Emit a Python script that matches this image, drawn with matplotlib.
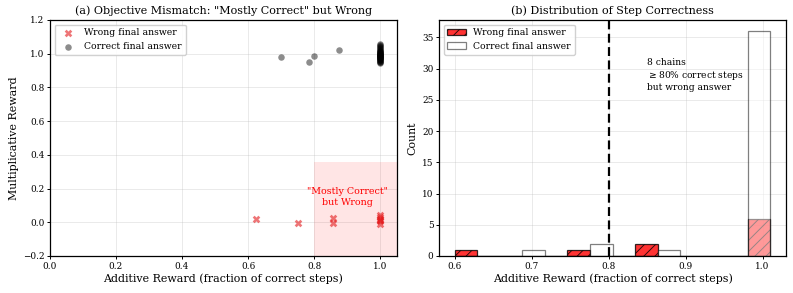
import numpy as np
import matplotlib
matplotlib.use("Agg")
from matplotlib import pyplot as plt

plt.rcParams['font.family'] = ['DejaVu Serif']
plt.rcParams['hatch.linewidth'] = 0.7

# additive reward (fraction of correct steps) and multiplicative reward per chain
wrong_add = [0.625, 0.75, 0.857, 0.857, 1.0, 1.0, 1.0, 1.0, 1.0, 1.0]
wrong_mult = [0.02, -0.005, 0.025, -0.003, 0.045, 0.03, 0.015, 0.005, -0.01, 0.022]

correct_add = [0.7, 0.786, 0.8, 0.875] + [1.0] * 36
correct_mult = [0.98, 0.948, 0.985, 1.023,
                0.942, 0.948, 0.953, 0.957, 0.961, 0.964, 0.967, 0.970, 0.972,
                0.975, 0.977, 0.979, 0.981, 0.983, 0.985, 0.987, 0.989, 0.991,
                0.993, 0.995, 0.997, 0.999, 1.001, 1.003, 1.005, 1.008, 1.011,
                1.014, 1.018, 1.022, 1.027, 1.032, 1.038, 1.044, 1.050, 1.055]

bins = np.linspace(0.6, 1.01, 15)
threshold = 0.8

fig = plt.figure(figsize=(7.93, 2.93), dpi=100)
ax1 = fig.add_axes([0.063, 0.1263, 0.4372, 0.8055])
ax2 = fig.add_axes([0.5536, 0.1263, 0.4376, 0.8055])

# (a) scatter
ax1.axvspan(threshold, 1.05, ymin=0, ymax=0.4, color='red', alpha=0.1, lw=0)
ax1.scatter(wrong_add, wrong_mult, marker='X', s=30, color='#e41a1c', alpha=0.6,
            linewidths=0, label='Wrong final answer', zorder=3)
ax1.scatter(correct_add, correct_mult, marker='o', s=22, color='black', alpha=0.45,
            linewidths=0, label='Correct final answer', zorder=3)
ax1.text(0.9, 0.15, '"Mostly Correct"\nbut Wrong', color='red', ha='center', va='center',
         fontsize=6.8)
ax1.set_xlim(0, 1.05)
ax1.set_ylim(-0.2, 1.2)
ax1.set_xlabel('Additive Reward (fraction of correct steps)', fontsize=7.9, labelpad=2)
ax1.set_ylabel('Multiplicative Reward', fontsize=7.9, labelpad=3)
ax1.set_title('(a) Objective Mismatch: "Mostly Correct" but Wrong', fontsize=8.0, pad=4)
ax1.legend(loc='upper left', fontsize=6.7, framealpha=0.9)

# (b) histogram
ax2.hist(wrong_add, bins=bins, color='red', edgecolor='black', hatch='///', alpha=0.8,
         linewidth=0.9, label='Wrong final answer')
ax2.hist(correct_add, bins=bins, color='white', edgecolor='black', alpha=0.5,
         linewidth=0.9, label='Correct final answer')
ax2.axvline(threshold, color='black', ls=(0, (4, 2)), lw=1.6)
n_high = sum(1 for v in wrong_add if v >= threshold)
ax2.text(0.85, 29, f'{n_high} chains\n$\\geq$80% correct steps\nbut wrong answer',
         fontsize=6.6, va='center', ha='left')
ax2.set_xlabel('Additive Reward (fraction of correct steps)', fontsize=7.9, labelpad=2)
ax2.set_ylabel('Count', fontsize=7.9, labelpad=3)
ax2.set_title('(b) Distribution of Step Correctness', fontsize=8.0, pad=4)
ax2.legend(loc='upper left', fontsize=6.7, framealpha=0.9)

for ax in (ax1, ax2):
    ax.grid(True, alpha=0.3, lw=0.6)
    ax.set_axisbelow(True)
    ax.tick_params(labelsize=6.4, length=2.5, width=0.7, pad=1.5)
    for s in ax.spines.values():
        s.set_linewidth(0.9)

plt.savefig('out.png', dpi=100)
